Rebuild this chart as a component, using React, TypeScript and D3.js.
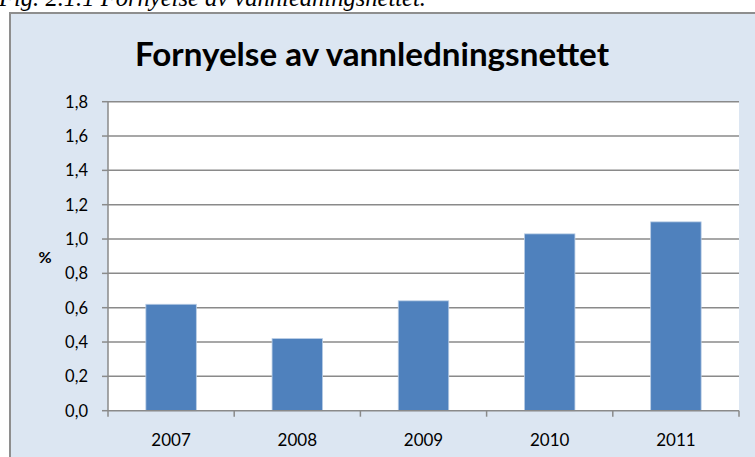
import React from "react";
import * as d3 from "d3";

const categories = ["2007", "2008", "2009", "2010", "2011"];
const values = [0.62, 0.42, 0.64, 1.03, 1.1];
const yTicks = [0, 0.2, 0.4, 0.6, 0.8, 1.0, 1.2, 1.4, 1.6, 1.8];
const title = "Fornyelse av vannledningsnettet";
const caption = "Fig. 2.1.1 Fornyelse av vannledningsnettet.";
const yLabel = "%";

const W = 755;
const H = 457;
const plot = { left: 108, right: 739, top: 101.7, bottom: 410.7 };
const font = "Lato, 'Open Sans', sans-serif";

export default function App() {
  const x = d3
    .scaleBand<string>()
    .domain(categories)
    .range([plot.left, plot.right])
    .paddingInner(0.6)
    .paddingOuter(0.3);
  const band = d3.scaleBand<string>().domain(categories).range([plot.left, plot.right]);
  const y = d3.scaleLinear().domain([0, 1.8]).range([plot.bottom, plot.top]);
  const fmt = (v: number) => v.toFixed(1).replace(".", ",");
  const grid = "#8a8a8a";

  return (
    <svg
      width={W}
      height={H}
      style={{ position: "absolute", left: 0, top: 0, display: "block" }}
    >
      <rect x={0} y={0} width={W} height={H} fill="#ffffff" />
      <text
        x={-1}
        y={6}
        fontFamily="'Liberation Serif', 'Times New Roman', serif"
        fontStyle="italic"
        fontSize={26}
        textLength={427}
        lengthAdjust="spacingAndGlyphs"
        fill="#000"
      >
        {caption}
      </text>
      <rect
        x={10}
        y={13}
        width={W + 20}
        height={H}
        fill="#dce6f2"
        stroke="#8e8e8e"
        strokeWidth={2}
      />
      <text
        x={372}
        y={66}
        textAnchor="middle"
        fontFamily={font}
        fontWeight="bold"
        fontSize={33}
        textLength={474}
        lengthAdjust="spacingAndGlyphs"
        fill="#000"
      >
        {title}
      </text>
      <rect
        x={plot.left}
        y={plot.top}
        width={plot.right - plot.left}
        height={plot.bottom - plot.top}
        fill="#ffffff"
      />
      {yTicks.map((t) => (
        <g key={t}>
          {t > 0 && (
            <line
              x1={plot.left}
              x2={plot.right}
              y1={y(t)}
              y2={y(t)}
              stroke={grid}
              strokeWidth={1.5}
            />
          )}
          <line
            x1={plot.left - 6}
            x2={plot.left}
            y1={y(t)}
            y2={y(t)}
            stroke={grid}
            strokeWidth={1.5}
          />
          <text
            x={88}
            y={y(t) + 6}
            textAnchor="end"
            fontFamily={font}
            fontSize={16.5}
            fill="#000"
          >
            {fmt(t)}
          </text>
        </g>
      ))}
      {categories.map((c, i) => (
        <rect
          key={c}
          x={x(c)}
          y={y(values[i])}
          width={x.bandwidth()}
          height={y(0) - y(values[i])}
          fill="#4f81bd"
          stroke="#b9cde5"
          strokeWidth={0.8}
        />
      ))}
      <line
        x1={plot.left}
        x2={plot.left}
        y1={plot.top}
        y2={plot.bottom}
        stroke={grid}
        strokeWidth={1.5}
      />
      <line
        x1={plot.left}
        x2={plot.right}
        y1={plot.bottom}
        y2={plot.bottom}
        stroke={grid}
        strokeWidth={1.5}
      />
      {[...categories.map((c) => band(c) as number), plot.right].map((bx, i) => (
        <line
          key={i}
          x1={bx}
          x2={bx}
          y1={plot.bottom}
          y2={plot.bottom + 6}
          stroke={grid}
          strokeWidth={1.5}
        />
      ))}
      {categories.map((c) => (
        <text
          key={c}
          x={(band(c) as number) + band.bandwidth() / 2}
          y={446}
          textAnchor="middle"
          fontFamily={font}
          fontSize={17}
          fill="#000"
        >
          {c}
        </text>
      ))}
      <text
        x={45}
        y={263}
        textAnchor="middle"
        fontFamily={font}
        fontWeight="bold"
        fontSize={16}
        fill="#000"
      >
        {yLabel}
      </text>
    </svg>
  );
}
